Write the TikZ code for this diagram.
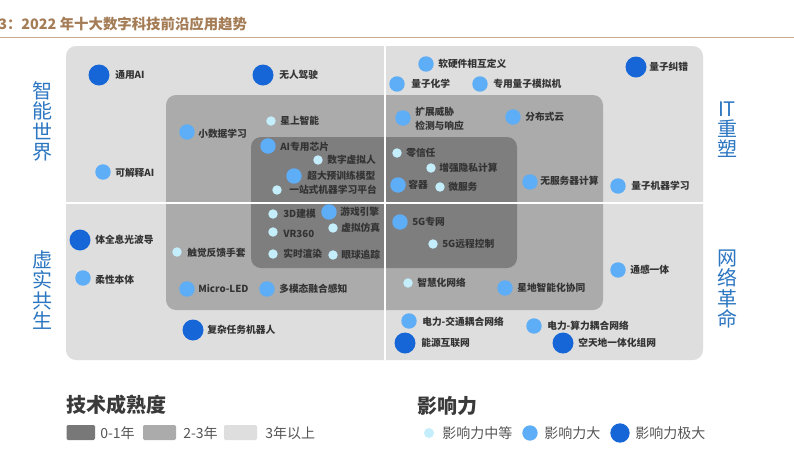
\documentclass[tikz,border=0pt]{standalone}
\usepackage{fontspec}
\setmainfont{Noto Sans CJK SC}
\definecolor{lvlA}{HTML}{DEDEDE}
\definecolor{lvlB}{HTML}{ABABAB}
\definecolor{lvlC}{HTML}{7E7E7E}
\definecolor{cS}{HTML}{C4EEFB}
\definecolor{cM}{HTML}{5EADF7}
\definecolor{cL}{HTML}{1766D7}
\definecolor{labelc}{HTML}{333333}
\definecolor{sidec}{HTML}{2D77C2}
\definecolor{titlec}{HTML}{A47C56}
\definecolor{titleline}{HTML}{C9AC90}
\definecolor{legtitle}{HTML}{3A3A3A}
\definecolor{legtext}{HTML}{555555}
\newcommand\techpt[7]{\node[#2] (c#1) at (#3,#4) {}; \node[lbl] (t#1) at (#5,#6) {#7};}
\begin{document}
\begin{tikzpicture}[x=0.75pt,y=-0.75pt,
  dot/.style={circle, inner sep=0pt, draw=none},
  sdot/.style={dot, fill=cS, minimum size=7.1pt},
  mdot/.style={dot, fill=cM, minimum size=11.6pt},
  ldot/.style={dot, fill=cL, minimum size=15.75pt},
  lbl/.style={anchor=west, inner sep=0pt, font=\fontsize{7.3pt}{10.5pt}\selectfont\bfseries, text=labelc, align=left},
  side/.style={inner sep=0pt, align=center, font=\fontsize{15pt}{15.2pt}\selectfont, text=sidec},
  zone/.style={rounded corners=7.5pt, draw=none},
  divider/.style={white, line width=1.9pt},
  legt/.style={anchor=west, inner sep=0pt, font=\fontsize{15pt}{17pt}\selectfont\bfseries, text=legtitle},
  legx/.style={anchor=west, inner sep=0pt, font=\fontsize{10.5pt}{12pt}\selectfont, text=legtext},
  swatch/.style={rounded corners=1pt, draw=none}
]
\useasboundingbox (0,0) rectangle (794,451);
\fill[white] (0,0) rectangle (794,451);

% title
\node[anchor=west, inner sep=0pt, font=\fontsize{10.8pt}{12pt}\selectfont\bfseries, text=titlec] (title) at (-2,24) {3：2022 年十大数字科技前沿应用趋势};
\coordinate (tlA) at (0,37.5);
\coordinate (tlB) at (794,37.5);
\draw[titleline, line width=0.8pt] (tlA) -- (tlB);

% maturity zones
\fill[zone, lvlA] (66,46) rectangle (703,360);
\fill[zone, lvlB] (166,95) rectangle (603,310);
\fill[zone, lvlC] (251,137) rectangle (517,268);

% dividers
\coordinate (vT) at (385,46);
\coordinate (vB) at (385,360);
\coordinate (hL) at (66,203);
\coordinate (hR) at (703,203);
\draw[divider] (vT) -- (vB);
\draw[divider] (hL) -- (hR);

% side labels
\node[side] (sTL) at (42.5,121.5) {智\\能\\世\\界};
\node[side] (sBL) at (42.5,290) {虚\\实\\共\\生};
\node[side] (sTR) at (727,129.5) {IT\\重\\塑};
\node[side] (sBR) at (727,289) {网\\络\\革\\命};

% top-left
\techpt{1}{ldot}{99}{75}{115}{75}{通用AI}
\techpt{2}{ldot}{263}{75}{279}{75}{无人驾驶}
\techpt{3}{sdot}{271}{121}{280}{121}{星上智能}
\techpt{4}{mdot}{187}{132}{198}{134}{小数据学习}
\techpt{5}{mdot}{268}{146}{280}{147}{AI专用芯片}
\techpt{6}{sdot}{318}{160}{327}{160}{数字虚拟人}
\techpt{7}{mdot}{294}{176}{307}{176}{超大预训练模型}
\techpt{8}{sdot}{277}{190}{289}{190}{一站式机器学习平台}
\techpt{9}{mdot}{103}{172}{115}{173}{可解释AI}

% top-right
\techpt{10}{mdot}{426}{64}{438}{64}{软硬件相互定义}
\techpt{11}{ldot}{636}{67}{649}{67}{量子纠错}
\techpt{12}{mdot}{397}{84}{411}{84}{量子化学}
\techpt{13}{mdot}{480}{84}{493}{84}{专用量子模拟机}
\techpt{14}{mdot}{403}{118}{415}{119}{扩展威胁\\检测与响应}
\techpt{15}{mdot}{513}{117}{525}{117}{分布式云}
\techpt{16}{sdot}{397}{153}{406}{153}{零信任}
\techpt{17}{sdot}{431}{168}{439}{168}{增强隐私计算}
\techpt{18}{mdot}{398}{185}{408}{185}{容器}
\techpt{19}{sdot}{440}{187}{448}{187}{微服务}
\techpt{20}{mdot}{530}{182}{540}{181}{无服务器计算}
\techpt{21}{mdot}{618}{186}{631}{186}{量子机器学习}

% bottom-left
\techpt{22}{sdot}{273}{214}{283}{214}{3D建模}
\techpt{23}{mdot}{329}{212}{340}{212}{游戏引擎}
\techpt{24}{sdot}{273}{232}{283}{234}{VR360}
\techpt{25}{sdot}{333}{228}{341}{228}{虚拟仿真}
\techpt{26}{ldot}{80}{240}{95}{240}{体全息光波导}
\techpt{27}{sdot}{177}{252}{187}{253}{触觉反馈手套}
\techpt{28}{sdot}{273}{254}{283}{254}{实时渲染}
\techpt{29}{sdot}{333}{255}{341}{255}{眼球追踪}
\techpt{30}{mdot}{83}{278}{95}{280}{柔性本体}
\techpt{31}{mdot}{187}{289}{198}{289}{Micro-LED}
\techpt{32}{mdot}{267}{289}{279}{289}{多模态融合感知}
\techpt{33}{ldot}{193}{330}{207}{330}{复杂任务机器人}

% bottom-right
\techpt{34}{mdot}{400}{222}{412}{222}{5G专网}
\techpt{35}{sdot}{433}{244}{442}{244}{5G远程控制}
\techpt{36}{mdot}{618}{270}{630}{270}{通感一体}
\techpt{37}{sdot}{408}{283}{417}{283}{智慧化网络}
\techpt{38}{mdot}{505}{288}{517}{288}{星地智能化协同}
\techpt{39}{mdot}{409}{321}{422}{322}{电力-交通耦合网络}
\techpt{40}{mdot}{534}{326}{547}{326}{电力-算力耦合网络}
\techpt{41}{ldot}{405}{343}{421}{343}{能源互联网}
\techpt{42}{ldot}{563}{343}{578}{343}{空天地一体化组网}

% legend: maturity
\node[legt] (lgA) at (66,405) {技术成熟度};
\fill[swatch, lvlC!95!black] (66.5,425) rectangle (95,440);
\node[legx] (lgA1) at (100,433) {0-1年};
\fill[swatch, lvlB] (143,425) rectangle (176,440);
\node[legx] (lgA2) at (183,433) {2-3年};
\fill[swatch, lvlA] (224,425) rectangle (257,440);
\node[legx] (lgA3) at (265,433) {3年以上};

% legend: impact
\node[legt] (lgB) at (417,406) {影响力};
\node[dot, fill=cS, minimum size=7.5pt] (lgB1d) at (429,433) {};
\node[legx] (lgB1) at (442,433) {影响力中等};
\node[dot, fill=cM, minimum size=11.5pt] (lgB2d) at (530,433) {};
\node[legx] (lgB2) at (544,433) {影响力大};
\node[dot, fill=cL, minimum size=14.5pt] (lgB3d) at (620,433) {};
\node[legx] (lgB3) at (635,433) {影响力极大};
\end{tikzpicture}
\end{document}
